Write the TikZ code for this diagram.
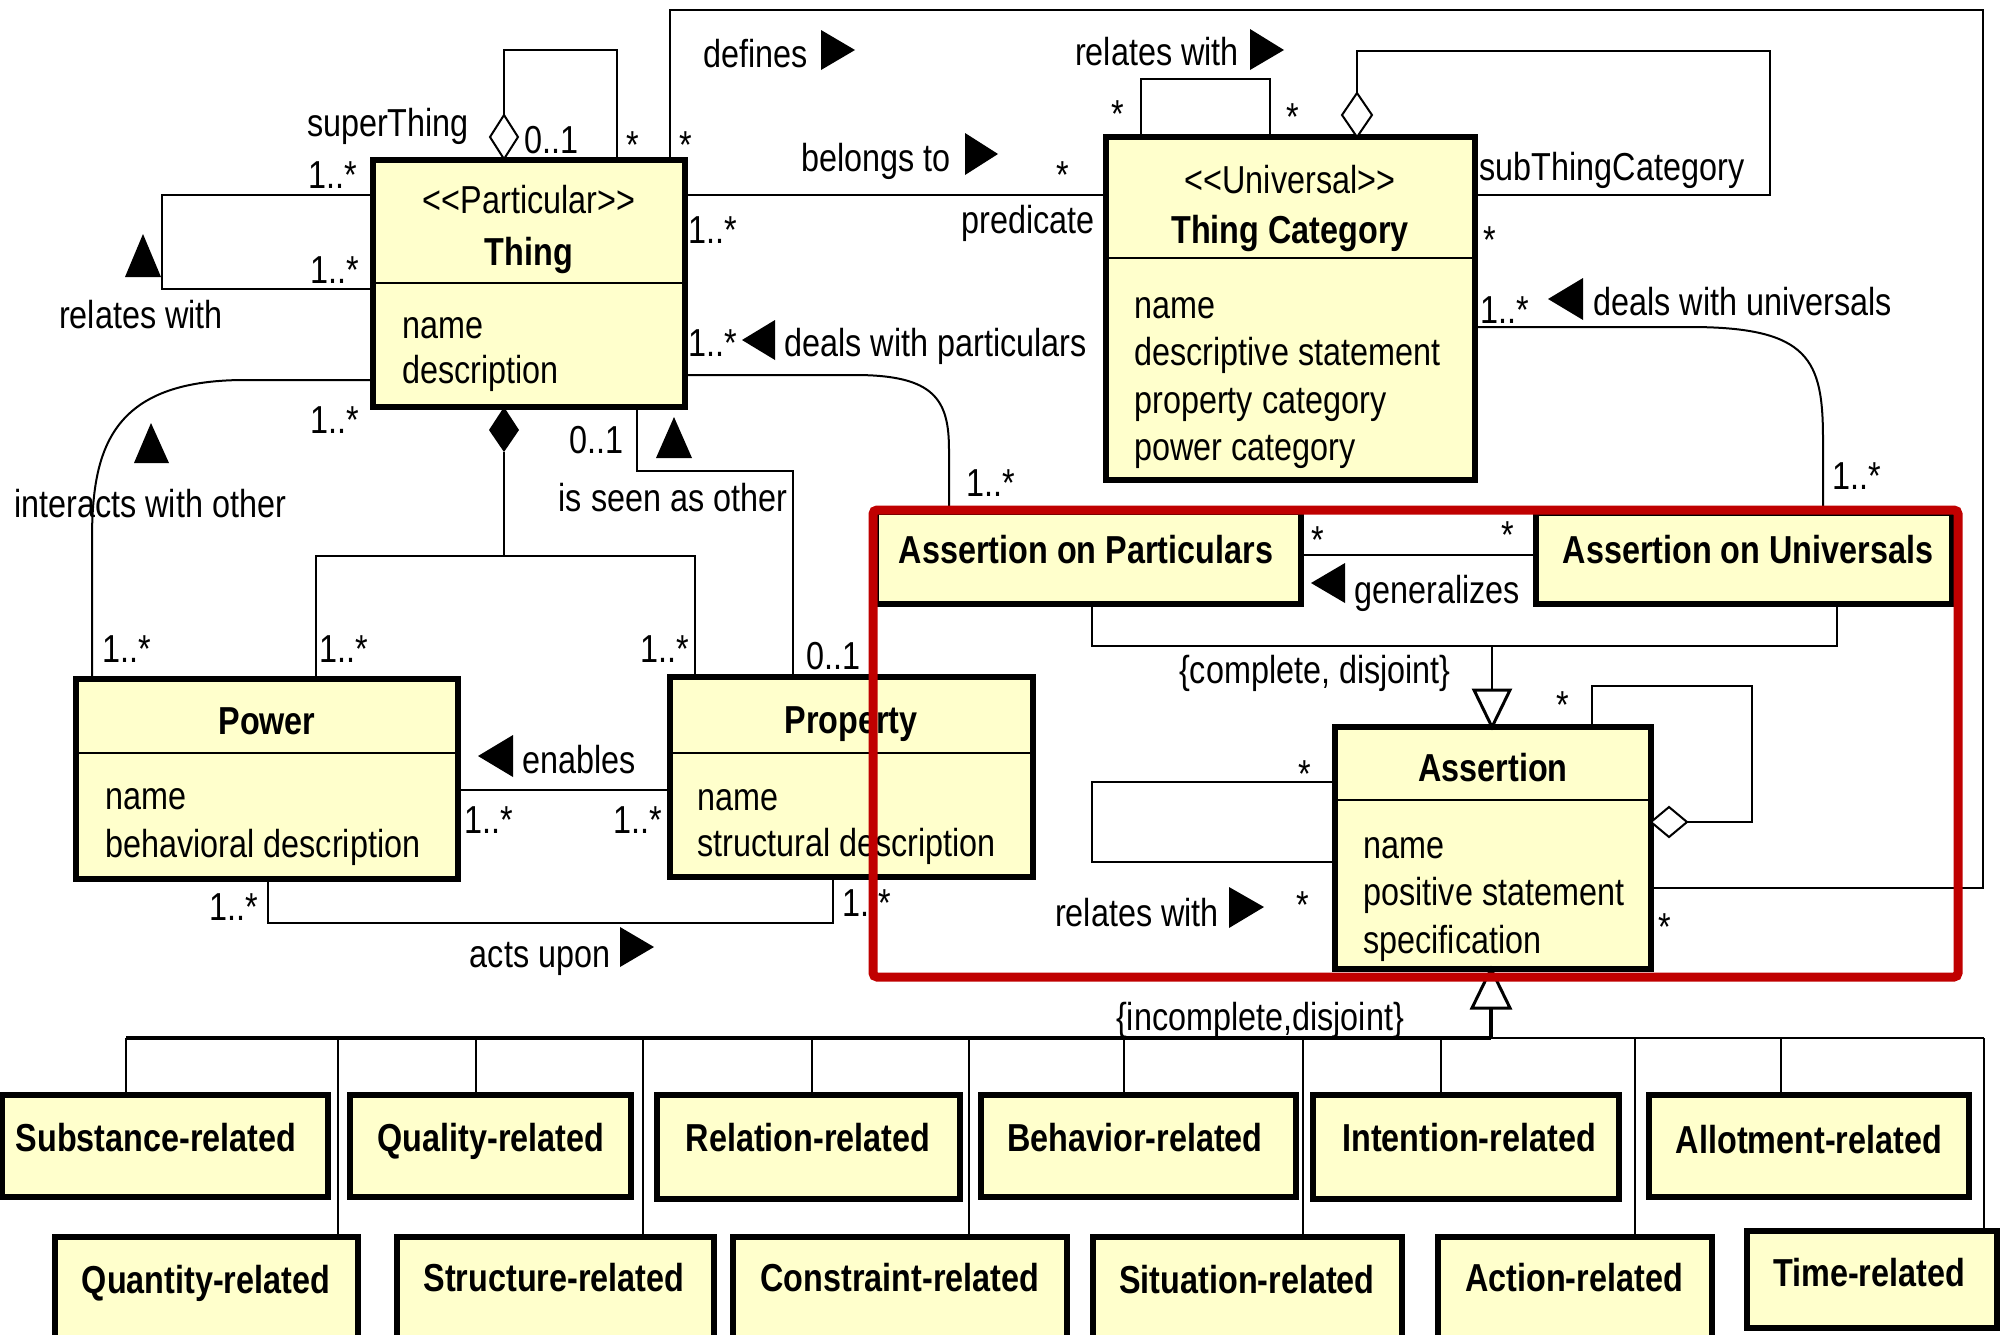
\documentclass[tikz,border=0pt]{standalone}
\usepackage{fontspec}
\setmainfont{Liberation Sans}[FakeStretch=0.83, Ligatures=TeXOff]
\usetikzlibrary{fit}
\definecolor{boxfill}{RGB}{255,255,204}
\definecolor{markred}{RGB}{192,0,0}
\newcommand\diagfont{\fontsize{19.5}{23}\selectfont}

\begin{document}
\begin{tikzpicture}[x=0.5pt,y=-0.5pt,
  cls/.style={draw, line width=3pt, fill=boxfill, inner sep=0pt, outer sep=0pt},
  sepline/.style={line width=1.2pt},
  txt/.style={inner sep=0pt, font=\diagfont, text height=14pt, text depth=4pt, yshift=-1.6pt},
  ttl/.style={txt, font=\diagfont\bfseries},
  attr/.style={txt, anchor=west},
  conn/.style={line width=1pt},
  dirtri/.style={fill=black},
  opendia/.style={draw, fill=white, line width=1pt},
  opentri/.style={draw, fill=white, line width=1.5pt},
  ]
\fill[white] (0,0) rectangle (2002,1334);
\useasboundingbox (0,0) rectangle (2002,1334);

% ---------------- classes ----------------
\node[cls, fit={(373,160)(685,407)}] (thing) {};
\draw[sepline] (thing.west |- 0,283) -- (thing.east |- 0,283);
\node[txt] (thingst) at (529,200) {<<Particular>>};
\node[ttl] (thingnm) at (529,252) {Thing};
\node[attr] (thinga1) at (402,325) {name};
\node[attr] (thinga2) at (402,370) {description};

\node[cls, fit={(1106,137)(1475,480)}] (tc) {};
\draw[sepline] (tc.west |- 0,258) -- (tc.east |- 0,258);
\node[txt] (tcst) at (1290,180) {<<Universal>>};
\node[ttl] (tcnm) at (1290,230) {Thing Category};
\node[attr] (tca1) at (1134,305) {name};
\node[attr] (tca2) at (1134,352) {descriptive statement};
\node[attr] (tca3) at (1134,400) {property category};
\node[attr] (tca4) at (1134,447) {power category};

\node[cls, fit={(76,679)(458,879)}] (power) {};
\draw[sepline] (power.west |- 0,753) -- (power.east |- 0,753);
\node[ttl] (powernm) at (267,721) {Power};
\node[attr] (powera1) at (105,796) {name};
\node[attr] (powera2) at (105,844) {behavioral description};

\node[cls, fit={(670,677)(1033,877)}] (property) {};
\draw[sepline] (property.west |- 0,753) -- (property.east |- 0,753);
\node[ttl] (propnm) at (851,720) {Property};
\node[attr] (propa1) at (697,797) {name};
\node[attr] (propa2) at (697,843) {structural description};

\node[cls, fit={(876,512)(1301,604)}] (aop) {};
\node[ttl] (aopnm) at (1086,550) {Assertion on Particulars};

\node[cls, fit={(1536,513)(1952,604)}] (aou) {};
\node[ttl] (aounm) at (1748,550) {Assertion on Universals};

\node[cls, fit={(1335,727)(1651,969)}] (assertion) {};
\draw[sepline] (assertion.west |- 0,800) -- (assertion.east |- 0,800);
\node[ttl] (assnm) at (1493,768) {Assertion};
\node[attr] (assa1) at (1363,845) {name};
\node[attr] (assa2) at (1363,892) {positive statement};
\node[attr] (assa3) at (1363,940) {specification};

% ---------------- assertion kinds ----------------
\node[cls, fit={(2,1095)(328,1197)}] (sub) {};
\node[ttl] (subt) at (156,1138) {Substance-related};
\node[cls, fit={(350,1095)(631,1197)}] (qual) {};
\node[ttl] (qualt) at (491,1138) {Quality-related};
\node[cls, fit={(657,1095)(960,1199)}] (rel) {};
\node[ttl] (relt) at (808,1138) {Relation-related};
\node[cls, fit={(981,1095)(1296,1197)}] (beh) {};
\node[ttl] (beht) at (1135,1138) {Behavior-related};
\node[cls, fit={(1313,1095)(1619,1199)}] (int) {};
\node[ttl] (intt) at (1469,1138) {Intention-related};
\node[cls, fit={(1649,1095)(1969,1197)}] (allot) {};
\node[ttl] (allott) at (1809,1140) {Allotment-related};

\node[cls, fit={(55,1237)(358,1345)}] (quant) {};
\node[ttl] (quantt) at (206,1280) {Quantity-related};
\node[cls, fit={(397,1237)(714,1345)}] (struct) {};
\node[ttl] (structt) at (554,1278) {Structure-related};
\node[cls, fit={(733,1237)(1067,1345)}] (constr) {};
\node[ttl] (constrt) at (900,1278) {Constraint-related};
\node[cls, fit={(1093,1237)(1402,1345)}] (sit) {};
\node[ttl] (sitt) at (1247,1280) {Situation-related};
\node[cls, fit={(1438,1237)(1712,1345)}] (act) {};
\node[ttl] (actt) at (1574,1278) {Action-related};
\node[cls, fit={(1747,1231)(1997,1328)}] (time) {};
\node[ttl] (timet) at (1869,1273) {Time-related};

% ---------------- connectors ----------------
% superThing (aggregation loop on Thing)
\coordinate (stdia) at (504,115);
\draw[conn] (stdia) -- (504,50) -- (617,50) -- (thing.north -| 617,0);
\draw[opendia] (504,115) -- (518,137) -- (504,159) -- (490,137) -- cycle;
\node[txt] (stl) at (388,123) {superThing};
\node[txt] (stm1) at (551,140) {0..1};
\node[txt] (stm2) at (633,145) {*};

% Thing relates with Thing
\draw[conn] (thing.west |- 0,195) -- (162,195) -- (162,289) -- (thing.west |- 0,289);
\fill[dirtri] (125,277) -- (143,234) -- (161,277) -- cycle;
\node[txt] (trm1) at (333,175) {1..*};
\node[txt] (trm2) at (335,270) {1..*};
\node[txt] (trl) at (141,315) {relates with};

% belongs to
\draw[conn] (thing.east |- 0,195) -- (tc.west |- 0,195);
\fill[dirtri] (965,133) -- (998,154) -- (965,175) -- cycle;
\node[txt] (btl) at (876,158) {belongs to};
\node[txt] (btm1) at (713,230) {1..*};
\node[txt] (btm2) at (1063,175) {*};
\node[txt] (btr) at (1028,220) {predicate};

% defines
\draw[conn] (assertion.east |- 0,888) -- (1983,888) -- (1983,10) -- (670,10) -- (thing.north -| 670,0);
\fill[dirtri] (821,30) -- (855,50) -- (821,70) -- cycle;
\node[txt] (dfl) at (756,54) {defines};
\node[txt] (dfm1) at (686,145) {*};
\node[txt] (dfm2) at (1665,927) {*};

% Thing Category relates with Thing Category
\draw[conn] (tc.north -| 1141,0) -- (1141,79) -- (1270,79) -- (tc.north -| 1270,0);
\fill[dirtri] (1250,29) -- (1284,50) -- (1250,70) -- cycle;
\node[txt] (tcrl) at (1157,52) {relates with};
\node[txt] (tcrm1) at (1118,114) {*};
\node[txt] (tcrm2) at (1293,117) {*};

% subThingCategory
\coordinate (tcdia) at (1357,93);
\draw[conn] (tcdia) -- (1357,51) -- (1770,51) -- (1770,195) -- (tc.east |- 0,195);
\draw[opendia] (1357,93) -- (1372,115) -- (1357,137) -- (1342,115) -- cycle;
\node[txt] (stcl) at (1612,167) {subThingCategory};
\node[txt] (stcm) at (1490,240) {*};

% deals with universals
\draw[conn] (tc.east |- 0,327) -- (1690,327) .. controls (1810,327) and (1823,360) .. (1823,440) -- (aou.north -| 1823,0);
\fill[dirtri] (1583,278) -- (1548,299) -- (1583,320) -- cycle;
\node[attr] (dwul) at (1593,302) {deals with universals};
\node[txt] (dwum1) at (1505,310) {1..*};
\node[txt] (dwum2) at (1857,476) {1..*};

% deals with particulars
\draw[conn] (thing.east |- 0,375) -- (855,375) .. controls (935,375) and (949,400) .. (949,450) -- (aop.north -| 949,0);
\fill[dirtri] (775,320) -- (742,340) -- (775,360) -- cycle;
\node[attr] (dwpl) at (784,343) {deals with particulars};
\node[txt] (dwpm1) at (713,343) {1..*};
\node[txt] (dwpm2) at (991,483) {1..*};

% interacts with other
\draw[conn] (thing.west |- 0,380) -- (245,380) .. controls (110,380) and (92,450) .. (92,540) -- (power.north -| 92,0);
\fill[dirtri] (134,463) -- (151,423) -- (169,463) -- cycle;
\node[txt] (iwl) at (150,504) {interacts with other};
\node[txt] (iwm1) at (335,420) {1..*};
\node[txt] (iwm2) at (127,649) {1..*};

% composition of Thing
\coordinate (cpdia) at (504,452);
\draw[conn] (cpdia) -- (504,556);
\draw[conn] (power.north -| 316,0) -- (316,556) -- (695,556) -- (property.north -| 695,0);
\fill[black] (504,407) -- (519,430) -- (504,452) -- (489,430) -- cycle;
\node[txt] (cpm1) at (344,649) {1..*};
\node[txt] (cpm2) at (665,649) {1..*};

% is seen as other
\draw[conn] (thing.south -| 637,0) -- (637,471) -- (793,471) -- (property.north -| 793,0);
\fill[dirtri] (656,458) -- (674,417) -- (692,458) -- cycle;
\node[txt] (isl) at (673,498) {is seen as other};
\node[txt] (ism1) at (596,440) {0..1};
\node[txt] (ism2) at (833,656) {0..1};

% enables
\draw[conn] (power.east |- 0,790) -- (property.west |- 0,790);
\fill[dirtri] (513,735) -- (478,756) -- (513,777) -- cycle;
\node[attr] (enl) at (522,760) {enables};
\node[txt] (enm1) at (489,820) {1..*};
\node[txt] (enm2) at (638,820) {1..*};

% acts upon
\draw[conn] (power.south -| 268,0) -- (268,923) -- (833,923) -- (property.south -| 833,0);
\fill[dirtri] (620,927) -- (654,947) -- (620,967) -- cycle;
\node[txt] (aul) at (540,954) {acts upon};
\node[txt] (aum1) at (234,907) {1..*};
\node[txt] (aum2) at (867,903) {1..*};

% generalizes
\draw[conn] (aop.east |- 0,555) -- (aou.west |- 0,555);
\fill[dirtri] (1345,563) -- (1311,583) -- (1345,603) -- cycle;
\node[attr] (gnl) at (1354,590) {generalizes};
\node[txt] (gnm1) at (1318,540) {*};
\node[txt] (gnm2) at (1508,535) {*};

% complete, disjoint generalization set
\draw[conn] (aop.south -| 1092,0) -- (1092,646) -- (1837,646) -- (aou.south -| 1837,0);
\draw[conn] (1492,646) -- (1492,690);
\draw[opentri] (1474,690) -- (1510,690) -- (assertion.north -| 1492,0) -- cycle;
\node[txt] (cdl) at (1315,670) {\{complete, disjoint\}};

% Assertion relates with Assertion
\draw[conn] (assertion.west |- 0,782) -- (1092,782) -- (1092,862) -- (assertion.west |- 0,862);
\fill[dirtri] (1229,887) -- (1264,907) -- (1229,928) -- cycle;
\node[txt] (arl) at (1137,913) {relates with};
\node[txt] (arm1) at (1305,774) {*};
\node[txt] (arm2) at (1303,905) {*};

% Assertion aggregation loop
\draw[conn] (assertion.north -| 1592,0) -- (1592,686) -- (1752,686) -- (1752,822) -- (1687,822);
\draw[opendia] (1651,822) -- (1669,807) -- (1687,822) -- (1669,837) -- cycle;
\node[txt] (agm) at (1563,705) {*};

% incomplete, disjoint generalization set
\draw[line width=1.6pt] (1491,1008) -- (1491,1038);
\draw[line width=1.6pt] (126,1038) -- (1491,1038);
\draw[conn] (1491,1038) -- (1984,1038);
\draw[opentri] (1472,1008) -- (1510,1008) -- (assertion.south -| 1491,0) -- cycle;
\node[txt] (idl) at (1260,1017) {\{incomplete,disjoint\}};
\draw[conn] (126,1038) -- (sub.north -| 126,0);
\draw[conn] (476,1038) -- (qual.north -| 476,0);
\draw[conn] (812,1038) -- (rel.north -| 812,0);
\draw[conn] (1124,1038) -- (beh.north -| 1124,0);
\draw[conn] (1441,1038) -- (int.north -| 1441,0);
\draw[conn] (1781,1038) -- (allot.north -| 1781,0);
\draw[conn] (338,1038) -- (quant.north -| 338,0);
\draw[conn] (643,1038) -- (struct.north -| 643,0);
\draw[conn] (969,1038) -- (constr.north -| 969,0);
\draw[conn] (1303,1038) -- (sit.north -| 1303,0);
\draw[conn] (1635,1038) -- (act.north -| 1635,0);
\draw[conn] (1984,1038) -- (time.north -| 1984,0);

% highlighted region
\node[draw=markred, line width=4.5pt, rounded corners=2pt, inner sep=0pt, fit={(873,510)(1958,977)}] (focus) {};
\end{tikzpicture}
\end{document}
